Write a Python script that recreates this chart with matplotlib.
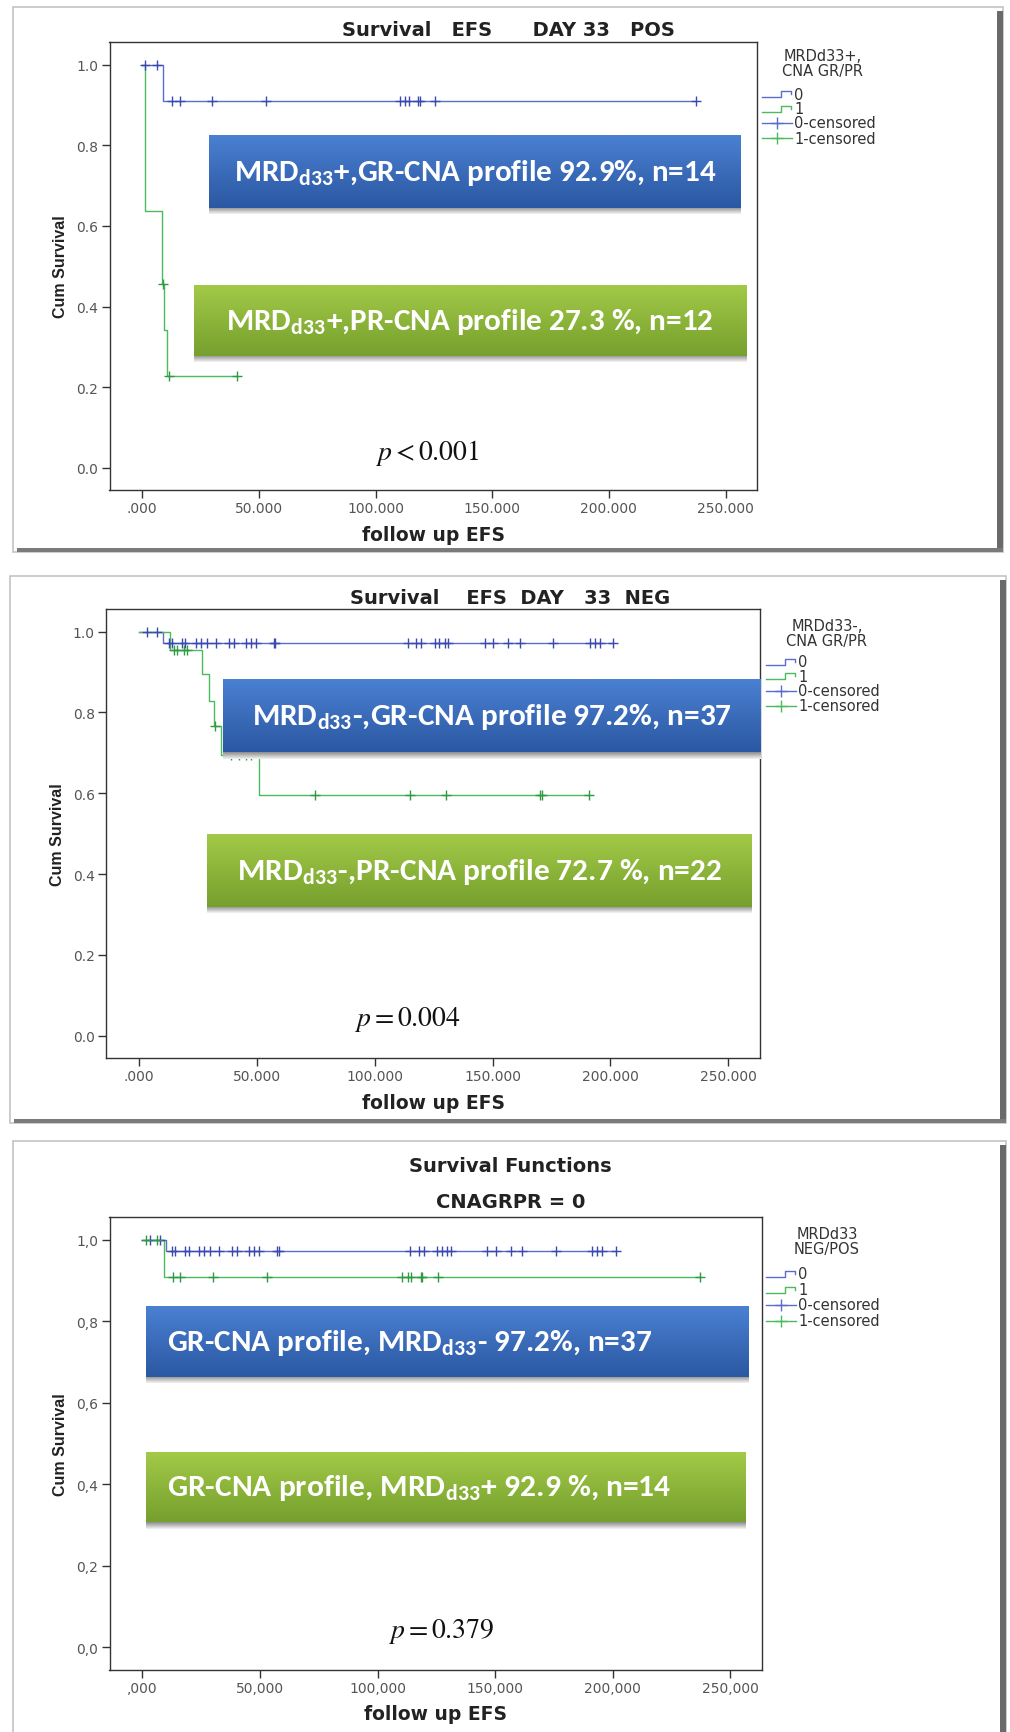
import numpy as np
import matplotlib.pyplot as plt
from matplotlib.patches import Rectangle
from matplotlib.lines import Line2D
from matplotlib.colors import LinearSegmentedColormap

plt.rcParams['mathtext.fontset'] = 'stix'

W, H = 1010, 1733

# Kaplan-Meier steps (time, survival after step) and censored times
# MRD d33 positive, GR-CNA profile
pos_gr_times = [0.0, 9.0]
pos_gr_surv = [1.0, 0.909]
pos_gr_cens = [1.4, 6.4, 12.8, 16.1, 30.0, 53.0, 110.6, 112.8, 114.4, 118.4,
               119.1, 125.6, 237.3]

# MRD d33 positive, PR-CNA profile
pos_pr_times = [0.0, 1.1, 8.3, 9.3, 10.7]
pos_pr_surv = [1.0, 0.636, 0.455, 0.341, 0.227]
pos_pr_cens = [8.8, 11.4, 40.7]

# MRD d33 negative, GR-CNA profile
neg_gr_times = [0.0, 10.2]
neg_gr_surv = [1.0, 0.972]
neg_gr_cens = [3.4, 7.6, 12.6, 14.0, 18.3, 19.7, 24.0, 26.1, 28.9, 32.7, 38.1,
               40.3, 45.3, 47.4, 49.5, 57.3, 57.9, 114.0, 117.6, 119.7, 125.4,
               127.5, 129.7, 131.1, 146.7, 150.2, 156.6, 161.6, 175.8, 191.4,
               193.5, 195.6, 201.3]

# MRD d33 negative, PR-CNA profile
neg_pr_times = [0.0, 13.0, 26.6, 29.5, 32.0, 35.0, 51.1]
neg_pr_surv = [1.0, 0.955, 0.894, 0.829, 0.766, 0.694, 0.595]
neg_pr_cens = [14.7, 16.1, 19.0, 20.4, 32.3, 38.9, 42.4, 45.2, 47.4, 74.6,
               114.9, 130.2, 170.2, 170.8, 191.1]

x_ticks = [0, 50, 100, 150, 200, 250]
y_ticks = [0.0, 0.2, 0.4, 0.6, 0.8, 1.0]
x_labels_dot = ['.000', '50.000', '100.000', '150.000', '200.000', '250.000']
y_labels_dot = ['0.0', '0.2', '0.4', '0.6', '0.8', '1.0']
x_labels_comma = [',000', '50,000', '100,000', '150,000', '200,000', '250,000']
y_labels_comma = ['0,0', '0,2', '0,4', '0,6', '0,8', '1,0']

legend_entries = ['0', '1', '0-censored', '1-censored']

p1_title = 'Survival   EFS      DAY 33   POS'
p2_title = 'Survival    EFS  DAY   33  NEG'
p3_title = 'Survival Functions'
p3_subtitle = 'CNAGRPR = 0'

p1_boxes = [r'MRD$_{\mathregular{d33}}$+,GR-CNA profile 92.9%, n=14',
            r'MRD$_{\mathregular{d33}}$+,PR-CNA profile 27.3 %, n=12']
p2_boxes = [r'MRD$_{\mathregular{d33}}$-,GR-CNA profile 97.2%, n=37',
            r'MRD$_{\mathregular{d33}}$-,PR-CNA profile 72.7 %, n=22']
p3_boxes = [r'GR-CNA profile, MRD$_{\mathregular{d33}}$- 97.2%, n=37',
            r'GR-CNA profile, MRD$_{\mathregular{d33}}$+ 92.9 %, n=14']

p_values = [r'$p < 0.001$', r'$p = 0.004$', r'$p = 0.379$']

BLUE = '#5a6ccc'
BLUE_M = '#3b4aae'
GREEN = '#4cbb5c'
GREEN_M = '#2f9a40'
BOX_FONT = ['Carlito', 'Lato', 'DejaVu Sans']
SPSS_FONT = 'DejaVu Sans'

fig = plt.figure(figsize=(W / 100, H / 100), dpi=100)
fig.patch.set_facecolor('white')


def fx(x):
    return x / W


def fy(y):
    return 1 - y / H


def frame(x0, y0, x1, y1):
    # bevelled panel border: light edge top/left, dark shadow right/bottom
    fig.add_artist(Rectangle((fx(x0), fy(y1)), (x1 - x0) / W, (y1 - y0) / H,
                             transform=fig.transFigure, facecolor='white',
                             edgecolor='#c4c4c4', lw=1.2, zorder=0))
    fig.add_artist(Rectangle((fx(x1 - 6), fy(y1)), 6 / W, (y1 - y0 - 4) / H,
                             transform=fig.transFigure, facecolor='#6a6a6a',
                             edgecolor='none', zorder=0.5))
    fig.add_artist(Rectangle((fx(x0 + 4), fy(y1)), (x1 - x0 - 4) / W, 4 / H,
                             transform=fig.transFigure, facecolor='#7a7a7a',
                             edgecolor='none', zorder=0.5))


def km(ax, times, surv, cens, color, mcolor):
    end = max(max(cens), times[-1])
    xs = list(times) + [end]
    ys = list(surv) + [surv[-1]]
    ax.plot(xs, ys, drawstyle='steps-post', color=color, lw=1.0, zorder=2)
    idx = np.searchsorted(times, cens, side='right') - 1
    cy = np.array(surv)[idx]
    ax.plot(cens, cy, ls='none', marker='+', ms=7, mew=1.0, color=mcolor,
            zorder=2.5)


def gbox(ax, x0, x1, y0, y1, top, bottom):
    cmap = LinearSegmentedColormap.from_list('g', [bottom, top])
    grad = np.linspace(0, 1, 64).reshape(-1, 1)
    ax.imshow(grad, extent=[x0, x1, y0, y1], origin='lower', aspect='auto',
              cmap=cmap, zorder=4)
    sh = LinearSegmentedColormap.from_list('s', ['#f4f4f4', '#8c8c8c'])
    ax.imshow(grad, extent=[x0, x1, y0 - 0.016, y0], origin='lower',
              aspect='auto', cmap=sh, zorder=3.9)


def legend(title, tx, ty, ix, iys):
    fig.text(fx(tx), fy(ty), title, ha='center', va='center', fontsize=10.5,
             color='#333333', family=SPSS_FONT, linespacing=1.0)
    cols = [BLUE, GREEN, BLUE, GREEN]
    for i, (lab, iy) in enumerate(zip(legend_entries, iys)):
        if i < 2:
            xs = [ix, ix + 19, ix + 19, ix + 29, ix + 29]
            ys = [iy + 3, iy + 3, iy - 3, iy - 3, iy]
            fig.add_artist(Line2D([fx(v) for v in xs], [fy(v) for v in ys],
                                  transform=fig.transFigure, color=cols[i],
                                  lw=1.0))
        else:
            fig.add_artist(Line2D([fx(ix), fx(ix + 30)], [fy(iy), fy(iy)],
                                  transform=fig.transFigure, color=cols[i],
                                  lw=1.0))
            fig.add_artist(Line2D([fx(ix + 15)], [fy(iy)],
                                  transform=fig.transFigure, color=cols[i],
                                  marker='+', ms=8, mew=1.0))
        fig.text(fx(ix + 32), fy(iy), lab, ha='left', va='center',
                 fontsize=10.5, color='#333333', family=SPSS_FONT)


def fit_size(s, target):
    t = fig.text(0, 0, s, fontsize=20, family=BOX_FONT, weight='bold')
    w = t.get_window_extent(fig.canvas.get_renderer()).width
    t.remove()
    return 20 * target / w


def panel(rect, xlab, ylab, curves, boxes, box_pos, box_align, text_w, pval,
          ppos):
    l, r, t, b = rect
    ax = fig.add_axes([fx(l), fy(b), (r - l) / W, (b - t) / H])
    ax.set_facecolor('white')
    for c in curves:
        km(ax, *c)
    colors = [('#4a80d2', '#2b58a2'), ('#a2c947', '#76a02e')]
    for (s, (x0, x1, y0, y1), (top, bot), tw) in zip(boxes, box_pos, colors,
                                                     text_w):
        gbox(ax, x0, x1, y0, y1, top, bot)
        fs = fit_size(s, tw)
        if box_align == 'center':
            ax.text((x0 + x1) / 2, (y0 + y1) / 2, s, ha='center', va='center',
                    color='white', fontsize=fs, weight='bold',
                    family=BOX_FONT, zorder=5)
        else:
            ax.text(10.4, (y0 + y1) / 2, s, ha='left', va='center',
                    color='white', fontsize=fs, weight='bold',
                    family=BOX_FONT, zorder=5)
    ax.text(ppos[0], ppos[1], pval, ha='center', va='center', fontsize=20,
            color='#111111', zorder=5)
    ax.set_xlim(-14, 263.5)
    ax.set_ylim(-0.055, 1.056)
    ax.set_xticks(x_ticks)
    ax.set_yticks(y_ticks)
    ax.set_xticklabels(xlab, fontsize=10, color='#555555', family=SPSS_FONT)
    ax.set_yticklabels(ylab, fontsize=10, color='#555555', family=SPSS_FONT)
    ax.tick_params(direction='out', length=6, width=1, color='#333333',
                   pad=2)
    for sp in ax.spines.values():
        sp.set_color('#333333')
        sp.set_linewidth(1.0)
    ax.set_xlabel('follow up EFS', fontsize=13.5, weight='bold',
                  family=SPSS_FONT, color='#222222', labelpad=7)
    ax.set_ylabel('Cum Survival', fontsize=11.5, weight='bold',
                  family='Liberation Sans', color='#222222', labelpad=6)
    return ax


# panel 1: MRD day 33 positive
frame(13, 8, 1003, 553)
ax1 = panel((109.5, 757, 43, 491), x_labels_dot, y_labels_dot,
            [(pos_gr_times, pos_gr_surv, pos_gr_cens, BLUE, BLUE_M),
             (pos_pr_times, pos_pr_surv, pos_pr_cens, GREEN, GREEN_M)],
            p1_boxes, [(28.8, 256.5, 0.645, 0.824), (22.0, 259.0, 0.278, 0.452)],
            'center', [483, 487], p_values[0], (122, 0.04))
fig.text(fx(508), fy(31), p1_title, ha='center', va='center', fontsize=14,
         weight='bold', family=SPSS_FONT, color='#222222')
legend('MRDd33+,\nCNA GR/PR', 823, 64, 762, [95, 109.5, 124, 139])

# panel 2: MRD day 33 negative
frame(10, 577, 1006, 1124)
ax2 = panel((106, 760, 610, 1059), x_labels_dot, y_labels_dot,
            [(neg_gr_times, neg_gr_surv, neg_gr_cens, BLUE, BLUE_M),
             (neg_pr_times, neg_pr_surv, neg_pr_cens, GREEN, GREEN_M)],
            p2_boxes, [(35.6, 263.5, 0.702, 0.882), (28.8, 260.0, 0.319, 0.498)],
            'center', [480, 486], p_values[1], (114, 0.043))
fig.text(fx(510), fy(598), p2_title, ha='center', va='center', fontsize=14,
         weight='bold', family=SPSS_FONT, color='#222222')
legend('MRDd33-,\nCNA GR/PR', 827, 634, 766, [662.6, 677, 692, 706.6])

# panel 3: GR-CNA profile only, MRD negative vs positive
frame(13, 1142, 1006, 1740)
ax3 = panel((109.5, 762, 1218, 1670.5), x_labels_comma, y_labels_comma,
            [(neg_gr_times, neg_gr_surv, neg_gr_cens, BLUE, BLUE_M),
             (pos_gr_times, pos_gr_surv, pos_gr_cens, GREEN, GREEN_M)],
            p3_boxes, [(1.4, 257.6, 0.664, 0.836), (1.4, 256.5, 0.307, 0.478)],
            'left', [486, 504], p_values[2], (127, 0.041))
fig.text(fx(510), fy(1167), p3_title, ha='center', va='center', fontsize=14,
         weight='bold', family=SPSS_FONT, color='#222222')
fig.text(fx(511), fy(1202), p3_subtitle, ha='center', va='center',
         fontsize=14, weight='bold', family=SPSS_FONT, color='#222222')
legend('MRDd33\nNEG/POS', 827, 1242, 766, [1274.6, 1290.5, 1306, 1322])

fig.savefig('out.png', dpi=100)
